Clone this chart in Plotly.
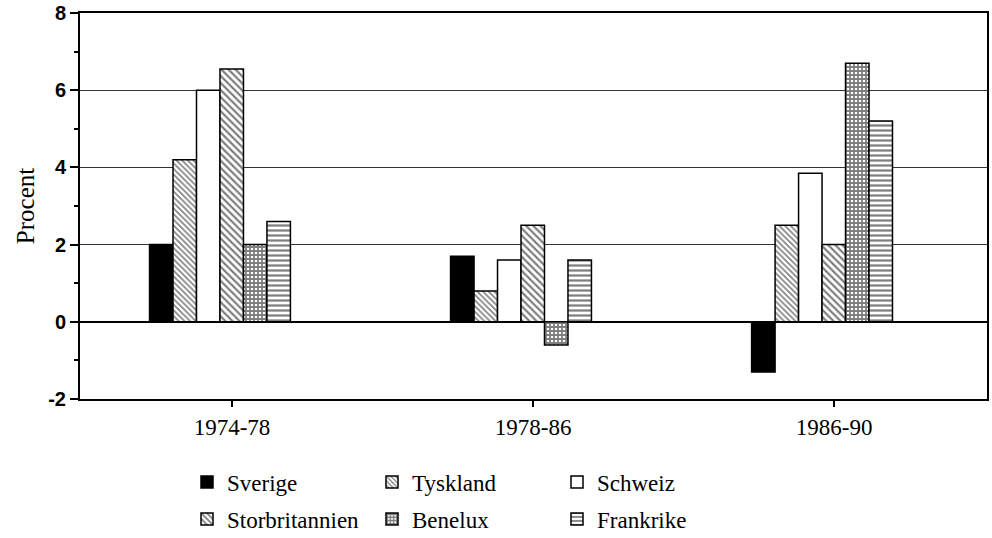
import plotly.graph_objects as go

periods = ["1974-78", "1978-86", "1986-90"]
series_names = ["Sverige", "Tyskland", "Schweiz", "Storbritannien", "Benelux", "Frankrike"]
sverige = [2.0, 1.7, -1.3]
tyskland = [4.2, 0.8, 2.5]
schweiz = [6.0, 1.6, 3.85]
storbritannien = [6.55, 2.5, 2.0]
benelux = [2.0, -0.6, 6.7]
frankrike = [2.6, 1.6, 5.2]
y_ticks = [-2, 0, 2, 4, 6, 8]

values = [sverige, tyskland, schweiz, storbritannien, benelux, frankrike]
styles = [
    dict(color="black", pattern=None),
    dict(color="white", pattern=dict(shape="\\", fgcolor="black", bgcolor="white", size=4, solidity=0.4)),
    dict(color="white", pattern=None),
    dict(color="white", pattern=dict(shape="\\", fgcolor="black", bgcolor="white", size=5, solidity=0.45)),
    dict(color="white", pattern=dict(shape="+", fgcolor="black", bgcolor="white", size=4, solidity=0.7)),
    dict(color="white", pattern=dict(shape="-", fgcolor="black", bgcolor="white", size=5, solidity=0.45)),
]
legend_ids = ["legend", "legend", "legend", "legend2", "legend2", "legend2"]

xpos = list(range(len(periods)))
serif = "Liberation Serif"

fig = go.Figure()
for name, vals, st, lg in zip(series_names, values, styles, legend_ids):
    marker = dict(color=st["color"], line=dict(color="black", width=1.5))
    if st["pattern"] is not None:
        marker["pattern"] = st["pattern"]
    fig.add_trace(go.Bar(name=name, x=xpos, y=vals, marker=marker, legend=lg))

legend_common = dict(
    orientation="h", xanchor="left", yanchor="top",
    xref="container", yref="container",
    entrywidth=140, traceorder="normal",
    font=dict(family=serif, size=23, color="black"),
    itemwidth=30, bgcolor="rgba(0,0,0,0)",
)

fig.update_layout(
    width=992, height=538,
    margin=dict(l=80, r=5, t=13, b=139, autoexpand=False),
    paper_bgcolor="white", plot_bgcolor="white",
    barmode="group", bargap=0.532, bargroupgap=0,
    font=dict(family=serif, color="black"),
    showlegend=True,
    legend=dict(x=187 / 992, y=0.144, **legend_common),
    legend2=dict(x=187 / 992, y=0.0753, **legend_common),
)

fig.update_xaxes(
    range=[-0.465, 2.548],
    tickmode="array", tickvals=[p + 0.04 for p in xpos], ticktext=periods,
    ticks="outside", ticklen=6, tickwidth=1.5, tickcolor="black",
    tickfont=dict(family=serif, size=23, color="black"),
    showline=True, linecolor="black", linewidth=2, mirror=True,
    showgrid=False, zeroline=False,
)
fig.update_yaxes(
    range=[-2, 8], tickmode="array", tickvals=y_ticks, ticktext=[str(v) for v in y_ticks],
    ticks="outside", ticklen=8, tickwidth=1.5, tickcolor="black",
    minor=dict(dtick=1, ticks="outside", ticklen=4, tickcolor="black", showgrid=False),
    tickfont=dict(family="Liberation Sans", size=20, color="black", weight="bold"),
    showline=True, linecolor="black", linewidth=2, mirror=True,
    showgrid=True, gridcolor="#333333", gridwidth=1,
    zeroline=True, zerolinecolor="black", zerolinewidth=2,
    title=dict(text="Procent", font=dict(family=serif, size=25, color="black"), standoff=6),
)

fig.write_html("out.html", post_script="document.body.style.margin='0';",
               config={"displayModeBar": False})
